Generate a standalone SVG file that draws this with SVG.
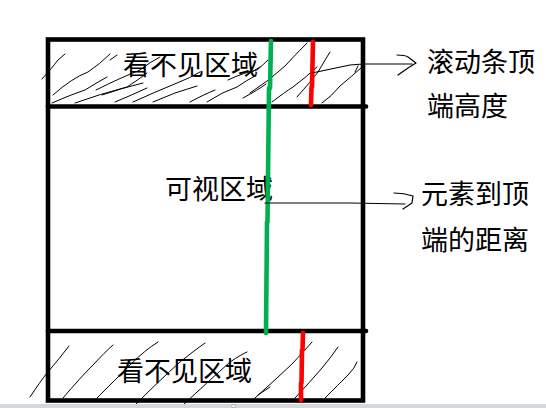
<svg xmlns="http://www.w3.org/2000/svg" width="546" height="408" viewBox="0 0 546 408">
<style>
.t{font-family:"Noto Sans CJK SC","Liberation Sans",sans-serif;font-size:27px;fill:#000}
.b{stroke:#000;stroke-width:4.6;fill:none;stroke-linecap:square}
.h{stroke:#000;stroke-width:1;fill:none;stroke-linecap:round;stroke-linejoin:round}
.a{stroke:#000;stroke-width:1.2;fill:none;stroke-linecap:round;stroke-linejoin:round}
.g{stroke:#00b050;stroke-width:4.6;fill:none;stroke-linecap:round}
.r{stroke:#ff0000;stroke-width:4.6;fill:none;stroke-linecap:round}
</style>
<rect width="546" height="408" fill="#fff"/>
<g id="hatch-top">
<path class="h" d="M42,79 Q52,68 58,60 L65,54"/>
<path class="h" d="M53,95 Q72,78 88,72 Q100,64 110,54"/>
<path class="h" d="M52,103 Q70,95 85,90 Q98,82 107,77"/>
<path class="h" d="M75,103 Q100,94 127,87 Q138,80 147,73"/>
<path class="h" d="M102,95 Q122,88 143,83"/>
<path class="h" d="M115,102 Q132,95 147,88"/>
<path class="h" d="M96,90 Q120,78 140,70 Q150,62 160,57"/>
<path class="h" d="M110,60 L117,55"/>
<path class="h" d="M133,102 Q155,92 177,83 Q190,78 200,72"/>
<path class="h" d="M153,102 Q175,92 197,86"/>
<path class="h" d="M190,102 Q205,94 215,90"/>
<path class="h" d="M207,102 Q222,92 237,87 Q247,80 255,76"/>
<path class="h" d="M243,98 Q258,90 266,84"/>
<path class="h" d="M228,80 Q245,72 257,70 Q264,64 268,60"/>
<path class="h" d="M250,73 L260,67"/>
<path class="h" d="M250,93 Q270,80 285,66 Q296,54 307,43"/>
<path class="h" d="M272,102 Q285,92 293,87 Q305,78 317,67"/>
<path class="h" d="M297,97 Q312,80 318,72 Q325,60 330,52"/>
<path class="h" d="M322,103 Q332,96 340,86 Q352,76 361,68"/>
<path class="h" d="M355,72 L358,66"/>
</g>
<g id="hatch-bottom">
<path class="h" d="M30,397 Q40,382 47,373 Q60,358 69,346"/>
<path class="h" d="M63,398 Q80,378 93,365 Q105,352 113,345"/>
<path class="h" d="M97,398 Q115,380 130,365 Q145,350 158,342"/>
<path class="h" d="M135,405 Q160,380 180,362 Q195,350 205,343"/>
<path class="h" d="M183,405 Q210,380 230,362 Q242,354 247,352"/>
<path class="h" d="M255,398 Q275,380 292,364 Q305,350 312,342"/>
<path class="h" d="M295,398 Q310,382 322,368 Q332,356 338,347"/>
<path class="h" d="M325,398 Q338,385 348,375 Q355,368 357,362"/>
<path class="h" d="M258,395 L270,387"/>
</g>
<g id="frame">
<rect class="b" x="48" y="39.5" width="315" height="361"/>
<line class="b" x1="48" y1="106.5" x2="366" y2="106.5" style="stroke-linecap:round"/>
<line class="b" x1="48" y1="331" x2="366" y2="331" style="stroke-linecap:round"/>
</g>
<g id="hidden-top"><text class="t" x="123" y="75">看不见区域</text></g>
<g id="visible"><text class="t" x="165" y="199">可视区域</text></g>
<g id="hidden-bottom"><text class="t" x="117" y="381">看不见区域</text></g>
<g id="offset-line"><path class="g" d="M271,41 L270,88 M269,88 L267.5,222 M267,222 L266,333"/></g>
<g id="scroll-lines">
<path class="r" d="M313,42 L312,87 M311.5,87 L311,105"/>
<path class="r" d="M303,333 L302.5,350 M302,350 L301.5,383 M301,383 L301,400"/>
</g>
<g id="connectors">
<path class="a" d="M312,73 L350,65 L363,64 L412,64"/>
<path class="a" d="M397,55 Q405,55 408,57 L416,63 L408,68 L398,75"/>
<path class="a" d="M265,203 L350,203 L405,204"/>
<path class="a" d="M394,193 Q404,193 413,196 L412,203 L403,209"/>
</g>
<g id="label-scrolltop">
<text class="t" x="427" y="72">滚动条顶</text>
<text class="t" x="427" y="116">端高度</text>
</g>
<g id="label-offsettop">
<text class="t" x="421" y="204">元素到顶</text>
<text class="t" x="421" y="250">端的距离</text>
</g>
<g id="statusbar">
<rect x="0" y="404" width="546" height="4" fill="#d4d8dd"/>
<rect x="232" y="404.5" width="3" height="3" fill="#fff" stroke="#888" stroke-width="0.5"/>
</g>
</svg>
